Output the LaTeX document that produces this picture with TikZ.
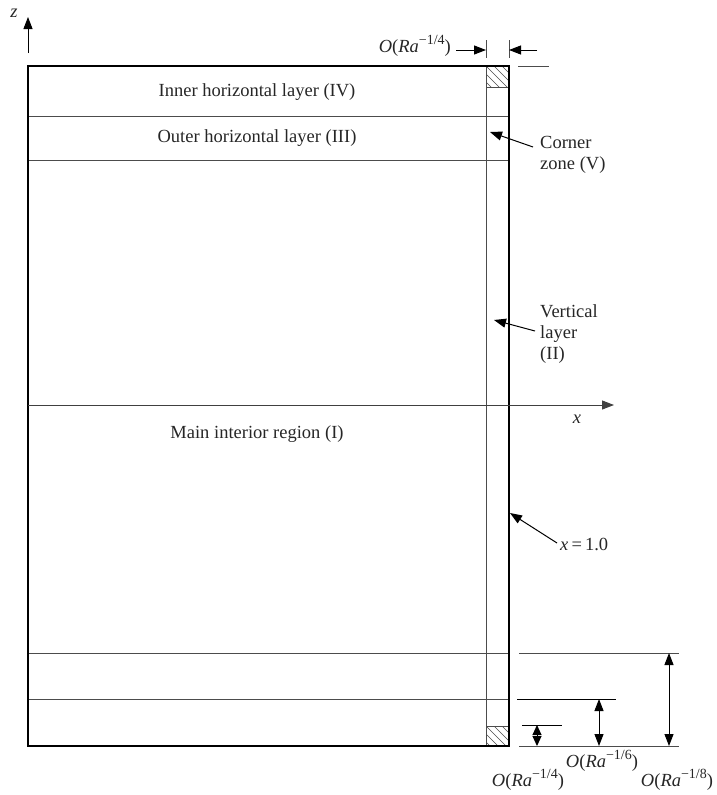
\documentclass[tikz,border=0pt]{standalone}
\usepackage{fontspec}
\setmainfont{Liberation Serif}
\usetikzlibrary{arrows.meta}
\newcommand{\mysup}[1]{\raisebox{0.42em}{\fontsize{14}{14}\selectfont #1}}
\newcommand{\orad}[1]{\textit{O}(\textit{Ra}\mysup{−#1})}
\begin{document}
\begin{tikzpicture}[x=1pt,y=-1pt,
  thinln/.style={line width=0.9pt, draw=black!70},
  boxln/.style={line width=2pt, draw=black},
  arr/.style={line width=1pt, draw=black, -{Triangle[length=12pt,width=9pt]}},
  darr/.style={line width=1pt, draw=black, {Triangle[length=12pt,width=9pt]}-{Triangle[length=12pt,width=9pt]}},
  lbl/.style={font=\fontsize{18.5}{21}\selectfont, text=black!85, inner sep=0pt},
  lblL/.style={lbl, align=left, anchor=west}]
\useasboundingbox (0,0) rectangle (717,795);
% coordinates
\coordinate (TL) at (28,66);
\coordinate (BR) at (509,746);
% hatched corners
\begin{scope}
  \clip (486,66) rectangle (509,87);
  \foreach \d in {-24,-16,-8,0,8,16} \draw[line width=0.6pt, black!70] (486+\d,66) -- (486+\d+24,90);
\end{scope}
\begin{scope}
  \clip (486,726) rectangle (509,746);
  \foreach \d in {-24,-16,-8,0,8,16} \draw[line width=0.6pt, black!70] (486+\d,726) -- (486+\d+24,750);
\end{scope}
\draw[thinln] (486,66) rectangle (509,87);
\draw[thinln] (486,726) rectangle (509,746);
% horizontal layer lines
\draw[thinln] (28,116) -- (509,116);
\draw[thinln] (28,160) -- (509,160);
\draw[thinln] (28,653) -- (509,653);
\draw[thinln] (28,699) -- (509,699);
% vertical layer line
\draw[thinln] (486,66) -- (486,746);
% main box
\draw[boxln] (TL) rectangle (BR);
% axes
\coordinate (zs) at (28,53);
\coordinate (ze) at (28,17);
\draw[arr] (zs) -- (ze);
\node[lbl, font=\fontsize{18.5}{21}\selectfont\itshape] (zl) at (14,13) {z};
\coordinate (xs) at (28,405);
\coordinate (xe) at (614,405);
\draw[arr, draw=black!75] (xs) -- (xe);
\node[lbl, font=\fontsize{18.5}{21}\selectfont\itshape] (xl) at (577,419) {x};
% region labels
\node[lbl] (r4) at (257,92) {Inner horizontal layer (IV)};
\node[lbl] (r3) at (257,138) {Outer horizontal layer (III)};
\node[lbl] (r1) at (257,434) {Main interior region (I)};
% corner zone
\node[lblL] (cz) at (540,155) {Corner\\zone (V)};
\coordinate (czt) at (490,132);
\coordinate (czs) at (533,147);
\draw[arr] (czs) -- (czt);
% vertical layer
\node[lblL] (vl) at (540,334) {Vertical\\layer\\(II)};
\coordinate (vlt) at (494,320);
\coordinate (vls) at (535,331);
\draw[arr] (vls) -- (vlt);
% x = 1.0
\node[lblL] (x1) at (560,544) {\textit{x}\,=\,1.0};
\coordinate (x1t) at (510,513);
\coordinate (x1s) at (557,543);
\draw[arr] (x1s) -- (x1t);
% top dimension
\draw[thinln] (486,40) -- (486,58);
\draw[thinln] (509,40) -- (509,58);
\draw[thinln] (518,66) -- (549,66);
\coordinate (ta1) at (456,50);
\coordinate (tb1) at (486,50);
\coordinate (ta2) at (537,50);
\coordinate (tb2) at (509,50);
\draw[arr] (ta1) -- (tb1);
\draw[arr] (ta2) -- (tb2);
\node[lbl, anchor=east] (tl) at (451,46) {\orad{1/4}};
% bottom dimensions
\draw[thinln] (519,746) -- (679,746);
\draw[thinln] (519,653) -- (679,653);
\draw[line width=0.9pt, black] (517,699) -- (616,699);
\draw[line width=0.9pt, black] (522,725) -- (562,725);
\coordinate (d8a) at (669,653);
\coordinate (d8b) at (669,746);
\draw[darr] (d8a) -- (d8b);
\coordinate (d6a) at (599,699);
\coordinate (d6b) at (599,746);
\draw[darr] (d6a) -- (d6b);
\coordinate (d4a) at (537,725);
\coordinate (d4b) at (537,746);
\draw[line width=1pt, {Triangle[length=10pt,width=9pt]}-{Triangle[length=10pt,width=9pt]}] (d4a) -- (d4b);
\node[lbl] (l6) at (602,761) {\orad{1/6}};
\node[lbl] (l4) at (528,780) {\orad{1/4}};
\node[lbl] (l8) at (677,780) {\orad{1/8}};
\end{tikzpicture}
\end{document}
